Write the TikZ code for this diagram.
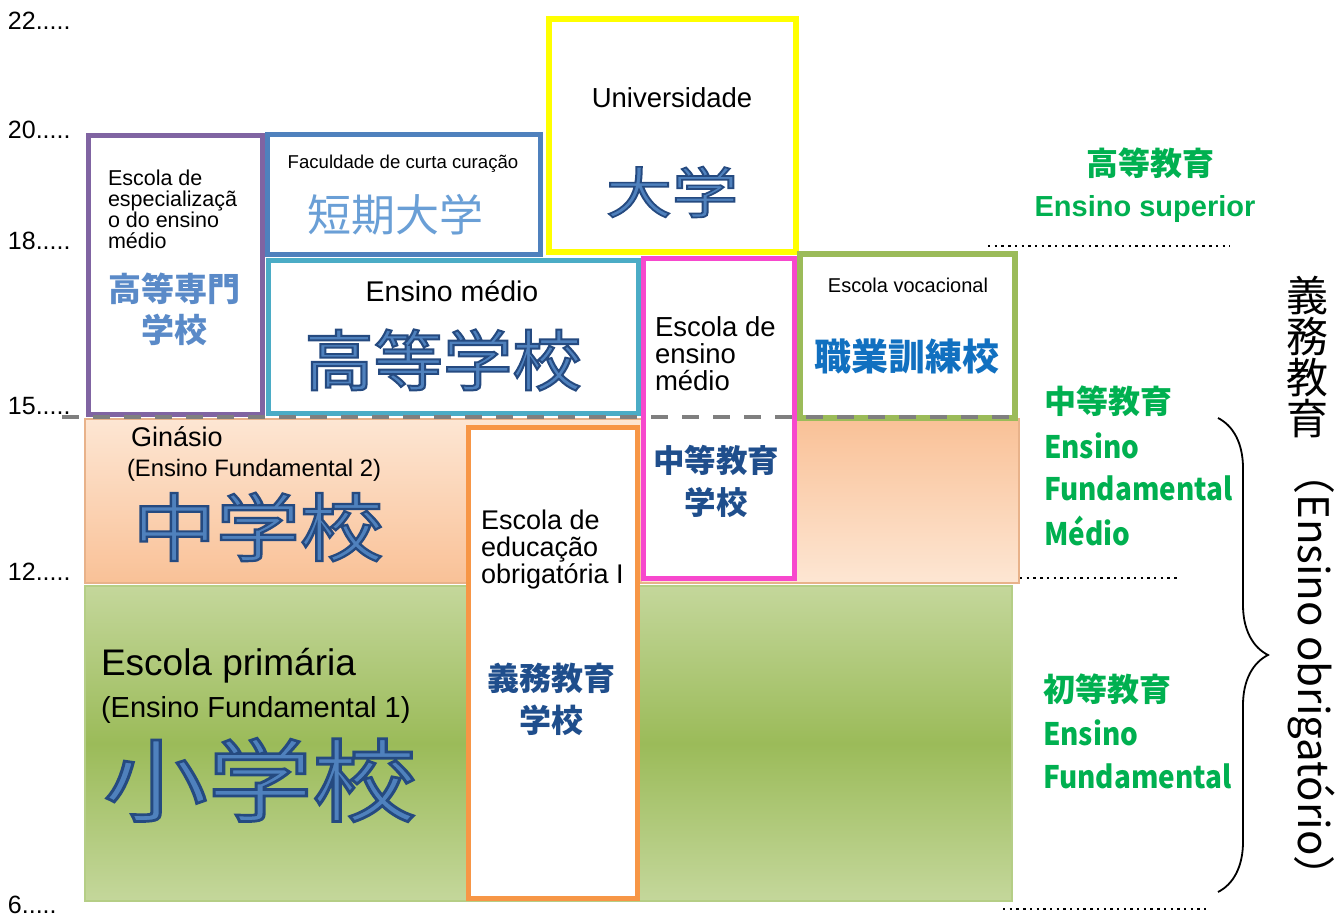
\documentclass[tikz,border=0pt]{standalone}
\usepackage{fontspec}
\setmainfont{Liberation Sans}
\newfontfamily\cjk{Noto Sans CJK JP}
\newfontfamily\cjkol[FakeBold=3]{Noto Sans CJK JP}
\usetikzlibrary{decorations.pathreplacing}
\definecolor{cpurple}{HTML}{8064A2}
\definecolor{cblue}{HTML}{4F81BD}
\definecolor{cyel}{HTML}{FFFF00}
\definecolor{ccyan}{HTML}{4BACC6}
\definecolor{cpink}{HTML}{F748CD}
\definecolor{cgreen}{HTML}{9BBB59}
\definecolor{corange}{HTML}{F79646}
\definecolor{orA}{HTML}{FDE6D3}
\definecolor{orB}{HTML}{F9C197}
\definecolor{orEdge}{HTML}{E8B28A}
\definecolor{grA}{HTML}{C4D79B}
\definecolor{grB}{HTML}{9BBB59}
\definecolor{grEdge}{HTML}{B5CE86}
\definecolor{dashc}{HTML}{7F7F7F}
\definecolor{olfill}{HTML}{4F81BD}
\definecolor{tanki}{HTML}{6A9FD6}
\definecolor{kbl}{HTML}{5A8AC8}
\definecolor{dbl}{HTML}{1F4E8C}
\definecolor{vbl}{HTML}{1170C0}
\definecolor{tgreen}{HTML}{00B050}
\newcommand\OLs{\special{pdf:literal direct 0.145 0.29 0.5 RG}}
\tikzset{
  lab/.style={anchor=base west, font=\fontsize{#1}{#1}\selectfont},
  box/.style={fill=white},
  olt/.style={text=olfill, font=\cjkol\fontsize{#1}{#1}\selectfont},
  bcjk/.style={font=\cjk\bfseries\fontsize{#1}{#1}\selectfont},
  yr/.style={anchor=base west, font=\fontsize{25}{25}\selectfont},
  gl/.style={anchor=west, text=tgreen, font=\cjk\bfseries\fontsize{#1}{#1}\selectfont},
  glat/.style={anchor=west, text=tgreen, xscale=0.9, font=\cjk\bfseries\fontsize{31}{31}\selectfont},
  dotline/.style={line width=2.4pt, dash pattern=on 2.4pt off 4.3pt},
}
\begin{document}
\begin{tikzpicture}[x=1pt,y=-1pt, every node/.style={inner sep=0pt, outer sep=0pt}]
\useasboundingbox (0,0) rectangle (1342,916);
\fill[white] (0,0) rectangle (1342,916);

% bands
\shade[top color=orA, bottom color=orB] (85,419) rectangle (642,583);
\shade[top color=orB, bottom color=orA] (642,419) rectangle (1019,583);
\draw[orEdge, line width=1.5pt] (85,419) rectangle (1019,583);
\shade[top color=grA, bottom color=grA, middle color=grB] (85,586) rectangle (1012,901);
\draw[grEdge, line width=2pt] (85,586) rectangle (1012,901);

% boxes
\draw[box, draw=cpurple, line width=5pt] (88.5,135.5) rectangle (262.5,414.5);
\draw[box, draw=cblue, line width=5pt] (267.5,134.5) rectangle (540.5,254.5);
\draw[box, draw=cyel, line width=6pt] (549,19) rectangle (796,252);
\draw[box, draw=ccyan, line width=5pt] (268.5,260.5) rectangle (638.5,413.5);
\draw[box, draw=cpink, line width=4.5pt] (643.5,258.5) rectangle (794.5,578.5);
\draw[box, draw=cgreen, line width=6pt] (800,254) rectangle (1015,418);
\draw[box, draw=corange, line width=5pt] (468.5,427.5) rectangle (637.5,898.5);

% dashed line
\coordinate (dsA) at (62,417);
\coordinate (dsB) at (1022,417);
\draw[dashc, line width=4pt, dash pattern=on 17pt off 14pt] (dsA) -- (dsB);

% dotted lines
\coordinate (d1a) at (988,246); \coordinate (d1b) at (1230,246);
\coordinate (d2a) at (1020,578); \coordinate (d2b) at (1180,578);
\coordinate (d3a) at (1003,909); \coordinate (d3b) at (1208,909);
\draw[dotline] (d1a) -- (d1b);
\draw[dotline] (d2a) -- (d2b);
\draw[dotline] (d3a) -- (d3b);

% brace
\coordinate (bt) at (1218,418);
\coordinate (bb) at (1218,892);
\draw[line width=1.8pt, decorate, decoration={brace, amplitude=50pt}] (bt) -- (bb);

% year labels
\node[yr] (y22) at (8,29) {22.....};
\node[yr] (y20) at (8,138) {20.....};
\node[yr] (y18) at (8,249) {18.....};
\node[yr] (y15) at (8,414) {15.....};
\node[yr] (y12) at (8,580) {12.....};
\node[yr] (y6) at (8,913) {6.....};

% Universidade
\node[lab=27.5, anchor=base] (uni) at (672,107) {Universidade};
\node[olt=55, xscale=1.2] (daigaku) at (672,192) {\OLs 大学};

% Faculdade
\node[lab=18.6, anchor=base] (fac) at (403,168) {Faculdade de curta curação};
\node[text=tanki, font=\cjk\fontsize{44}{44}\selectfont] (tanki) at (395,215) {短期大学};

% purple box
\node[lab=21.5] (p1) at (108,185) {Escola de};
\node[lab=21.5] (p2) at (108,206) {especializaçã};
\node[lab=21.5] (p3) at (108,227) {o do ensino};
\node[lab=21.5] (p4) at (108,248) {médio};
\node[bcjk=33, text=kbl] (p5) at (174,289) {高等専門};
\node[bcjk=33, text=kbl] (p6) at (174,330) {学校};

% cyan box
\node[lab=28.5, anchor=base] (em) at (452,301) {Ensino médio};
\node[olt=66, xscale=1.05] (koukou) at (443,360) {\OLs 高等学校};

% pink box
\node[lab=27.5] (k1) at (655,336) {Escola de};
\node[lab=27.5] (k2) at (655,363) {ensino};
\node[lab=27.5] (k3) at (655,390) {médio};
\node[bcjk=31.5, text=dbl] (k4) at (716,460) {中等教育};
\node[bcjk=31.5, text=dbl] (k5) at (716,502) {学校};

% green box
\node[lab=20, anchor=base] (voc) at (908,292) {Escola vocacional};
\node[bcjk=37, text=vbl] (shoku) at (907,356) {職業訓練校};

% orange band
\node[lab=27] (gin) at (131,446) {Ginásio};
\node[lab=23.8] (ef2) at (127,476) {(Ensino Fundamental 2)};
\node[olt=74, xscale=1.13] (chu) at (258,527) {\OLs 中学校};

% orange box
\node[lab=27] (o1) at (481,529) {Escola de};
\node[lab=27] (o2) at (481,556) {educação};
\node[lab=27] (o3) at (481,583) {obrigatória I};
\node[bcjk=32, text=dbl] (o4) at (551,678) {義務教育};
\node[bcjk=32, text=dbl] (o5) at (551,720) {学校};

% green band
\node[lab=37] (ep) at (101,675) {Escola primária};
\node[lab=29] (ef1) at (101,717) {(Ensino Fundamental 1)};
\node[olt=90, xscale=1.16] (sho) at (260,780) {\OLs 小学校};

% right green labels
\node[bcjk=32, text=tgreen] (g1) at (1150,163) {高等教育};
\node[text=tgreen, font=\bfseries\fontsize{29}{29}\selectfont] (g2) at (1145,209) {Ensino superior};
\node[gl=32] (g3) at (1044,401) {中等教育};
\node[glat] (g4) at (1044,446) {Ensino};
\node[glat] (g5) at (1044,488) {Fundamental};
\node[glat] (g6) at (1044,531) {Médio};
\node[gl=32] (g7) at (1043,689) {初等教育};
\node[glat] (g8) at (1043,733) {Ensino};
\node[glat] (g9) at (1043,776) {Fundamental};

% vertical text
\node[align=center, font=\cjk\fontsize{42}{41}\selectfont] (gimu) at (1307,357) {義\\務\\教\\育};
\node[rotate=-90, font=\cjk\fontsize{42}{42}\selectfont] (obrig) at (1312,675) {（Ensino obrigatório）};
\end{tikzpicture}
\end{document}
